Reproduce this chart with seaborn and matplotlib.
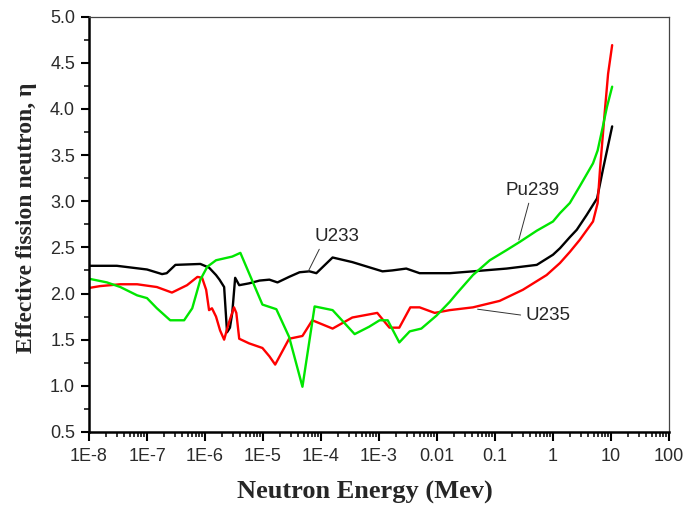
import numpy as np
import pandas as pd
import matplotlib
matplotlib.use("Agg")
import matplotlib.pyplot as plt
import matplotlib.ticker as mticker
import seaborn as sns

# ---- data (log10 of neutron energy in MeV, effective fission neutrons eta) ----
u233_logE = [-8.00, -7.52, -7.00, -6.74, -6.66, -6.51, -6.08, -5.93, -5.81, -5.75, -5.67, -5.62,
             -5.57, -5.53, -5.48, -5.41, -5.24, -5.06, -4.89, -4.75, -4.55, -4.37, -4.20, -4.08,
             -3.80, -3.46, -2.94, -2.77, -2.53, -2.30, -1.78, -1.38, -0.80, -0.28, 0.00, 0.12,
             0.29, 0.41, 0.58, 0.76, 0.86, 1.02]
u233_eta = [2.30, 2.30, 2.26, 2.21, 2.22, 2.31, 2.32, 2.28, 2.20, 2.15, 2.07, 1.58,
            1.63, 1.79, 2.17, 2.09, 2.11, 2.14, 2.15, 2.12, 2.18, 2.23, 2.24, 2.22,
            2.39, 2.34, 2.24, 2.25, 2.27, 2.22, 2.22, 2.24, 2.27, 2.31, 2.42, 2.49,
            2.61, 2.69, 2.85, 3.03, 3.34, 3.81]

u235_logE = [-8.00, -7.81, -7.46, -7.17, -6.83, -6.57, -6.31, -6.13, -6.05, -5.98, -5.93, -5.88,
             -5.81, -5.74, -5.67, -5.59, -5.50, -5.46, -5.41, -5.24, -5.01, -4.89, -4.79, -4.55,
             -4.32, -4.15, -3.80, -3.46, -3.03, -2.82, -2.65, -2.46, -2.30, -2.04, -1.78, -1.38,
             -0.92, -0.52, -0.11, 0.12, 0.29, 0.46, 0.69, 0.77, 0.81, 0.89, 0.95, 1.02]
u235_eta = [2.06, 2.08, 2.10, 2.10, 2.07, 2.01, 2.09, 2.18, 2.17, 2.04, 1.82, 1.84,
            1.75, 1.60, 1.50, 1.68, 1.85, 1.79, 1.51, 1.46, 1.41, 1.32, 1.23, 1.51,
            1.54, 1.71, 1.62, 1.74, 1.79, 1.63, 1.63, 1.85, 1.85, 1.79, 1.82, 1.85,
            1.92, 2.04, 2.20, 2.33, 2.45, 2.58, 2.78, 2.98, 3.34, 3.95, 4.38, 4.69]

pu239_logE = [-8.00, -7.69, -7.46, -7.17, -7.00, -6.83, -6.60, -6.36, -6.22, -6.08, -5.96, -5.81,
              -5.53, -5.39, -5.01, -4.77, -4.55, -4.32, -4.11, -3.80, -3.42, -3.17, -2.99, -2.85,
              -2.65, -2.47, -2.27, -2.01, -1.78, -1.66, -1.38, -1.09, -0.80, -0.57, -0.28, 0.00,
              0.12, 0.29, 0.46, 0.69, 0.77, 0.86, 0.93, 1.02]
pu239_eta = [2.16, 2.12, 2.07, 1.98, 1.95, 1.84, 1.71, 1.71, 1.84, 2.15, 2.29, 2.36,
             2.40, 2.44, 1.88, 1.83, 1.53, 0.99, 1.86, 1.82, 1.56, 1.64, 1.71, 1.71,
             1.47, 1.59, 1.62, 1.76, 1.91, 2.00, 2.20, 2.36, 2.47, 2.56, 2.68, 2.78,
             2.87, 2.98, 3.16, 3.41, 3.55, 3.81, 4.02, 4.24]

x_ticks = [1e-8, 1e-7, 1e-6, 1e-5, 1e-4, 1e-3, 1e-2, 1e-1, 1, 10, 100]
x_tick_labels = ["1E-8", "1E-7", "1E-6", "1E-5", "1E-4", "1E-3", "0.01", "0.1", "1", "10", "100"]
y_ticks = [0.5, 1.0, 1.5, 2.0, 2.5, 3.0, 3.5, 4.0, 4.5, 5.0]

series_names = ["U233", "U235", "Pu239"]
series_colors = {"U233": "#000000", "U235": "#ff0000", "Pu239": "#00e600"}

frames = []
for name, le, eta in [("U233", u233_logE, u233_eta),
                      ("U235", u235_logE, u235_eta),
                      ("Pu239", pu239_logE, pu239_eta)]:
    frames.append(pd.DataFrame({"energy": np.power(10.0, le), "eta": eta, "isotope": name}))
df = pd.concat(frames, ignore_index=True)

sns.set_theme(style="ticks")
plt.rcParams["font.family"] = ["Liberation Sans", "DejaVu Sans"]

fig = plt.figure(figsize=(6.86, 5.12), dpi=100)
ax = fig.add_axes([89 / 686, 80 / 512, 580 / 686, 415.5 / 512])

for name in series_names:
    sub = df[df["isotope"] == name]
    sns.lineplot(data=sub, x="energy", y="eta", color=series_colors[name],
                 linewidth=1.7, sort=False, estimator=None, ax=ax, legend=False)

ax.set_xscale("log")
ax.set_xlim(1e-8, 100)
ax.set_ylim(0.5, 5.0)

ax.xaxis.set_major_locator(mticker.FixedLocator(x_ticks))
ax.xaxis.set_major_formatter(mticker.FixedFormatter(x_tick_labels))
ax.xaxis.set_minor_locator(mticker.LogLocator(base=10, subs=np.arange(2, 10), numticks=100))
ax.xaxis.set_minor_formatter(mticker.NullFormatter())
ax.yaxis.set_major_locator(mticker.FixedLocator(y_ticks))
ax.yaxis.set_major_formatter(mticker.FormatStrFormatter("%.1f"))
ax.yaxis.set_minor_locator(mticker.MultipleLocator(0.25))

ax.tick_params(axis="both", which="major", direction="out", length=6, width=1.5,
               labelsize=13, colors="#000000", labelcolor="#2a2a2a", pad=4)
ax.tick_params(axis="both", which="minor", direction="out", length=3.5, width=1.1,
               colors="#000000")
ax.tick_params(axis="x", which="major", length=6.5, pad=5)

for s in ["left", "bottom"]:
    ax.spines[s].set_linewidth(1.8)
    ax.spines[s].set_color("#000000")
for s in ["top", "right"]:
    ax.spines[s].set_visible(True)
    ax.spines[s].set_linewidth(0.9)
    ax.spines[s].set_color("#444444")

ax.set_xlabel("Neutron Energy (Mev)", fontsize=19, fontweight="bold",
              family=["Liberation Serif", "DejaVu Serif"])
ax.set_ylabel("Effective fission neutron, \u03b7", fontsize=17, fontweight="bold",
              family=["Liberation Serif", "DejaVu Serif"])
ax.xaxis.set_label_coords(0.475, -0.118)
ax.yaxis.set_label_coords(-0.09, 0.515)

arrow = dict(arrowstyle="-", color="#333333", lw=0.7, shrinkA=1, shrinkB=0)
ax.annotate("U233", xy=(10 ** -4.22, 2.24), xytext=(10 ** -3.72, 2.62),
            ha="center", va="center", fontsize=13.5,
            arrowprops=dict(arrow, relpos=(0.15, 0.0)))
ax.annotate("Pu239", xy=(10 ** -0.59, 2.58), xytext=(10 ** -0.35, 3.12),
            ha="center", va="center", fontsize=13.5,
            arrowprops=dict(arrow, relpos=(0.45, 0.0)))
ax.annotate("U235", xy=(10 ** -1.30, 1.83), xytext=(10 ** -0.09, 1.76),
            ha="center", va="center", fontsize=13.5,
            arrowprops=dict(arrow, relpos=(0.0, 0.5)))

fig.savefig("out.png", dpi=100, facecolor="white")
